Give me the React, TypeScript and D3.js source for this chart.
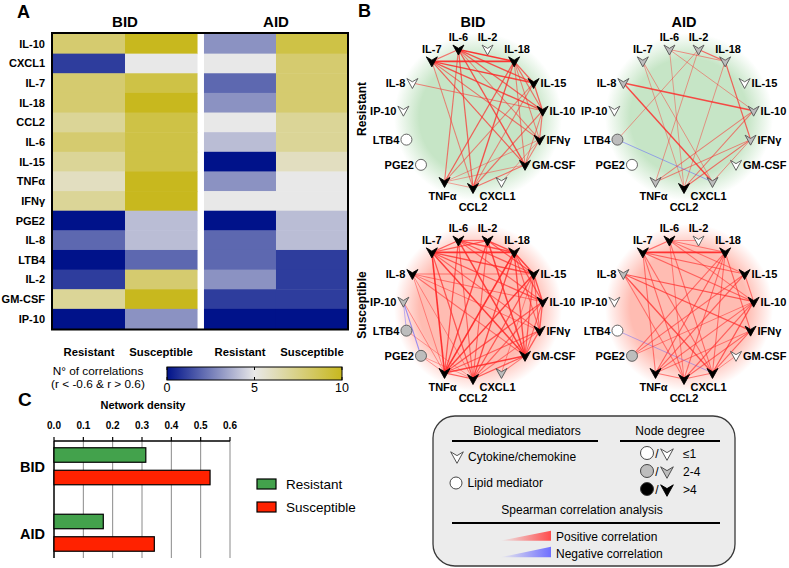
import React from "react";
import * as d3 from "d3";

const W = 789;
const H = 568;
const FONT = "'Liberation Sans', Arial, Helvetica, sans-serif";

// ---------- Panel A: heatmap data ----------
const heatRows = ["IL-10", "CXCL1", "IL-7", "IL-18", "CCL2", "IL-6", "IL-15", "TNFα", "IFNγ", "PGE2", "IL-8", "LTB4", "IL-2", "GM-CSF", "IP-10"];
const heatGroups = ["BID", "AID"];
const heatCols = ["Resistant", "Susceptible"];
const bidResistant = [8, 1, 8, 8, 7, 8, 7, 6, 7, 0, 2, 0, 1, 7, 0];
const bidSusceptible = [10, 5, 9, 10, 9, 9, 9, 10, 10, 4, 4, 2, 8, 10, 3];
const aidResistant = [3, 5, 2, 3, 5, 4, 0, 3, 5, 0, 2, 2, 3, 1, 0];
const aidSusceptible = [9, 8, 8, 8, 7, 7, 6, 5, 5, 4, 4, 1, 1, 1, 0];
const colorTicks = [0, 5, 10];

// ---------- Panel C: density data ----------
const densityGroups = ["BID", "AID"];
const densitySeries = ["Resistant", "Susceptible"];
const densityResistant = [0.313, 0.168];
const densitySusceptible = [0.532, 0.342];
const densityTicks = [0, 0.1, 0.2, 0.3, 0.4, 0.5, 0.6];

// ---------- Panel B: network data ----------
const netNodes = ["CCL2", "TNFα", "PGE2", "LTB4", "IP-10", "IL-8", "IL-7", "IL-6", "IL-2", "IL-18", "IL-15", "IL-10", "IFNγ", "GM-CSF", "CXCL1"];
const lipidNodes = ["PGE2", "LTB4"];
const topNodes = ["IL-7", "IL-6", "IL-2", "IL-18"];
const rightNodes = ["IL-15", "IL-10", "IFNγ", "GM-CSF"];
const bottomNodes = ["TNFα", "CCL2", "CXCL1"];

type Edge = [string, string, number];

const bidResEdges: Edge[] = [
  ["IL-7", "IL-6", 0.75], ["IL-7", "IL-18", 0.95], ["IL-6", "IL-18", 0.95], ["IL-7", "IL-15", 0.9],
  ["IL-7", "IL-10", 0.85], ["IL-7", "IFNγ", 0.75], ["IL-7", "GM-CSF", 0.8], ["IL-7", "CCL2", 0.7],
  ["IL-6", "TNFα", 0.75], ["IL-6", "IL-15", 0.85], ["IL-6", "IL-10", 0.8], ["IL-6", "GM-CSF", 0.85],
  ["IL-6", "CCL2", 0.8], ["IL-6", "IFNγ", 0.7], ["IL-18", "IL-15", 0.8], ["IL-18", "IL-10", 0.75],
  ["IL-18", "IFNγ", 0.7], ["IL-18", "GM-CSF", 0.7], ["IL-18", "TNFα", 0.8], ["IL-18", "CCL2", 0.85],
  ["IL-15", "IL-10", 0.8], ["IL-15", "CCL2", 0.7], ["IL-15", "TNFα", 0.7], ["IL-10", "IFNγ", 0.75],
  ["IL-10", "GM-CSF", 0.7], ["IL-10", "CCL2", 0.75], ["IFNγ", "GM-CSF", 0.7], ["IFNγ", "TNFα", 0.65],
  ["GM-CSF", "CCL2", 0.75], ["GM-CSF", "TNFα", 0.65], ["IL-8", "IL-10", 0.7], ["CXCL1", "IFNγ", 0.65],
  ["TNFα", "CCL2", 0.65],
];

const aidResEdges: Edge[] = [
  ["IL-6", "IL-18", 0.68], ["IL-2", "IL-18", 0.78], ["IL-6", "IL-10", 0.66], ["IL-2", "LTB4", 0.66],
  ["IL-2", "TNFα", 0.66], ["IL-8", "IL-10", 0.88], ["IL-8", "CXCL1", 0.88], ["LTB4", "CXCL1", -0.68],
  ["IL-18", "IFNγ", 0.8], ["IL-18", "CCL2", 0.66], ["IL-10", "TNFα", 0.7], ["IL-10", "CCL2", 0.72],
  ["IFNγ", "TNFα", 0.7], ["IFNγ", "CCL2", 0.76], ["IFNγ", "CXCL1", 0.68], ["IL-7", "CXCL1", 0.66],
  ["IL-6", "CCL2", 0.64], ["IL-7", "CCL2", 0.64],
];

const bidSusEdges: Edge[] = [
  ["IL-7", "IL-6", 0.8], ["IL-7", "IL-2", 0.8], ["IL-7", "IL-18", 0.95], ["IL-7", "IL-15", 0.85],
  ["IL-7", "IL-10", 0.8], ["IL-7", "IFNγ", 0.75], ["IL-7", "GM-CSF", 0.9], ["IL-7", "TNFα", 0.95],
  ["IL-7", "CCL2", 0.8], ["IL-6", "IL-2", 0.8], ["IL-6", "IL-18", 0.85], ["IL-6", "IL-15", 0.8],
  ["IL-6", "IL-10", 0.75], ["IL-6", "GM-CSF", 0.9], ["IL-6", "TNFα", 0.8], ["IL-6", "CCL2", 0.75],
  ["IL-2", "IL-18", 0.85], ["IL-2", "IL-15", 0.8], ["IL-2", "GM-CSF", 0.9], ["IL-2", "TNFα", 0.85],
  ["IL-2", "CCL2", 0.75], ["IL-18", "IL-15", 0.9], ["IL-18", "IL-10", 0.8], ["IL-18", "IFNγ", 0.75],
  ["IL-18", "GM-CSF", 0.85], ["IL-18", "TNFα", 0.95], ["IL-18", "CCL2", 0.85], ["IL-15", "IL-10", 0.85],
  ["IL-15", "IFNγ", 0.75], ["IL-15", "GM-CSF", 0.8], ["IL-15", "TNFα", 0.9], ["IL-15", "CCL2", 0.8],
  ["IL-10", "IFNγ", 0.8], ["IL-10", "GM-CSF", 0.75], ["IL-10", "TNFα", 0.8], ["IL-10", "CCL2", 0.75],
  ["IFNγ", "GM-CSF", 0.8], ["IFNγ", "TNFα", 0.75], ["IFNγ", "CCL2", 0.7], ["GM-CSF", "TNFα", 0.9],
  ["GM-CSF", "CCL2", 0.8], ["TNFα", "CCL2", 0.8], ["IL-8", "IL-15", 0.7], ["IL-8", "IL-10", 0.7],
  ["IL-8", "IFNγ", 0.68], ["IL-8", "GM-CSF", 0.72], ["IL-8", "TNFα", 0.66], ["IL-8", "CCL2", 0.66],
  ["IP-10", "PGE2", -0.75], ["IP-10", "LTB4", -0.65], ["IP-10", "TNFα", 0.66], ["LTB4", "CCL2", 0.63],
  ["PGE2", "TNFα", 0.66], ["PGE2", "CCL2", 0.63], ["CXCL1", "GM-CSF", 0.7], ["CXCL1", "IL-15", 0.66],
];

const aidSusEdges: Edge[] = [
  ["IL-7", "IL-6", 0.75], ["IL-7", "IL-18", 0.95], ["IL-7", "IL-15", 0.75], ["IL-7", "IL-10", 0.75],
  ["IL-7", "TNFα", 0.72], ["IL-7", "CCL2", 0.72], ["IL-7", "CXCL1", 0.72], ["IL-6", "IL-18", 0.7],
  ["IL-6", "IL-15", 0.7], ["IL-6", "IL-10", 0.7], ["IL-6", "CCL2", 0.68], ["IL-6", "CXCL1", 0.72],
  ["IL-18", "TNFα", 0.75], ["IL-18", "CCL2", 0.72], ["IL-18", "CXCL1", 0.72], ["IL-18", "IFNγ", 0.75],
  ["IL-15", "IL-10", 0.72], ["IL-15", "TNFα", 0.75], ["IL-10", "TNFα", 0.72], ["IL-10", "CCL2", 0.75],
  ["IL-10", "CXCL1", 0.8], ["IFNγ", "CCL2", 0.75], ["IFNγ", "CXCL1", 0.75], ["IFNγ", "TNFα", 0.7],
  ["TNFα", "CCL2", 0.72], ["CCL2", "CXCL1", 0.72], ["IL-8", "IL-10", 0.8], ["IL-8", "IFNγ", 0.8],
  ["IL-8", "CXCL1", 0.82], ["IL-8", "CCL2", 0.7], ["PGE2", "IL-18", 0.72], ["PGE2", "IL-15", 0.72],
  ["PGE2", "IL-10", 0.68], ["LTB4", "CXCL1", -0.65], ["IL-2", "IL-6", 0.66], ["GM-CSF", "CXCL1", 0.66],
];

const heatColor = d3
  .scaleLinear<string>()
  .domain([0, 5, 10])
  .range(["#00128a", "#e8e8e8", "#c8b81e"])
  .interpolate(d3.interpolateRgb);

const ARROW = "M-5.5,-4.5 L0,-1.2 L5.5,-4.5 L0,5.5 Z";

function nodeFill(deg: number) {
  if (deg <= 1) return "#ffffff";
  if (deg <= 4) return "#bdbdbd";
  return "#000000";
}

function Heatmap() {
  const x0 = 53, x1 = 348, y0 = 34, y1 = 328.5;
  const gx = d3.scaleBand().domain(heatGroups).range([x0, x1]).paddingInner(0.046);
  const cx = d3.scaleBand().domain(heatCols).range([0, gx.bandwidth()]);
  const y = d3.scaleBand().domain(heatRows).range([y0, y1]);
  const data: Record<string, number[]> = {
    "BID|Resistant": bidResistant,
    "BID|Susceptible": bidSusceptible,
    "AID|Resistant": aidResistant,
    "AID|Susceptible": aidSusceptible,
  };
  const cb = d3.scaleLinear().domain([0, 10]).range([167, 342]);
  return (
    <g>
      {heatGroups.map((g) => (
        <text key={g} x={(gx(g) as number) + gx.bandwidth() / 2} y={27} textAnchor="middle" fontWeight="bold" fontSize={15}>
          {g}
        </text>
      ))}
      {heatGroups.map((g) =>
        heatCols.map((c) =>
          heatRows.map((r, i) => (
            <rect
              key={g + c + r}
              x={(gx(g) as number) + (cx(c) as number)}
              y={y(r) as number}
              width={cx.bandwidth() + 0.5}
              height={y.bandwidth() + 0.5}
              fill={heatColor(data[g + "|" + c][i])}
            />
          ))
        )
      )}
      <rect x={52} y={33} width={296} height={296.5} fill="none" stroke="#000" strokeWidth={2} />
      {heatRows.map((r) => (
        <text key={r} x={45} y={(y(r) as number) + y.bandwidth() / 2 + 4} textAnchor="end" fontWeight="bold" fontSize={11}>
          {r}
        </text>
      ))}
      {heatGroups.map((g) =>
        heatCols.map((c) => (
          <text key={g + c} x={(gx(g) as number) + (cx(c) as number) + cx.bandwidth() / 2} y={356} textAnchor="middle" fontWeight="bold" fontSize={11.3}>
            {c}
          </text>
        ))
      )}
      <text x={98} y={375} textAnchor="middle" fontSize={11.8}>N° of correlations</text>
      <text x={98} y={388} textAnchor="middle" fontSize={11.8}>(r &lt; -0.6 &amp; r &gt; 0.6)</text>
      <defs>
        <linearGradient id="cbar" x1="0" x2="1" y1="0" y2="0">
          {d3.range(0, 10.01, 1).map((v) => (
            <stop key={v} offset={`${v * 10}%`} stopColor={heatColor(v)} />
          ))}
        </linearGradient>
      </defs>
      <rect x={cb(0)} y={367} width={cb(10) - cb(0)} height={13} fill="url(#cbar)" stroke="#000" strokeWidth={1} />
      {colorTicks.map((t) => (
        <g key={t}>
          <line x1={cb(t)} x2={cb(t)} y1={367} y2={370} stroke="#000" strokeWidth={1} />
          <line x1={cb(t)} x2={cb(t)} y1={377} y2={380} stroke="#000" strokeWidth={1} />
          <text x={cb(t)} y={392} textAnchor="middle" fontSize={12.5}>{t}</text>
        </g>
      ))}
    </g>
  );
}

function DensityChart() {
  const x = d3.scaleLinear().domain([0, 0.6]).range([54, 230]);
  const yTop = 441, yBot = 558;
  const gy = d3.scalePoint().domain(densityGroups).range([yTop, yBot]).padding(0.38);
  const sy = d3.scaleBand().domain(densitySeries).range([-18.5, 18.5]).paddingInner(0.356);
  const vals: Record<string, number[]> = { Resistant: densityResistant, Susceptible: densitySusceptible };
  const cols: Record<string, string> = { Resistant: "#43a24c", Susceptible: "#ff2200" };
  return (
    <g>
      <text x={18} y={406} fontWeight="bold" fontSize={19}>C</text>
      <text x={143} y={409} textAnchor="middle" fontWeight="bold" fontSize={11}>Network density</text>
      {densityTicks.map((t) => (
        <g key={t}>
          {t > 0 && <line x1={x(t)} x2={x(t)} y1={yTop} y2={yBot} stroke="#8a8a8a" strokeWidth={1} />}
          <line x1={x(t)} x2={x(t)} y1={yTop - 4} y2={yTop} stroke="#000" strokeWidth={1.2} />
          <text x={x(t)} y={428.5} textAnchor="middle" fontWeight="bold" fontSize={10}>{t.toFixed(1)}</text>
        </g>
      ))}
      <line x1={x(0)} x2={x(0.6)} y1={yTop} y2={yTop} stroke="#000" strokeWidth={1.5} />
      <line x1={x(0)} x2={x(0)} y1={yTop} y2={yBot} stroke="#000" strokeWidth={1.5} />
      {densityGroups.map((g, gi) => (
        <g key={g}>
          <text x={45} y={(gy(g) as number) + 6} textAnchor="end" fontWeight="bold" fontSize={14.5}>{g}</text>
          {densitySeries.map((s) => (
            <rect
              key={s}
              x={x(0)}
              y={(gy(g) as number) + (sy(s) as number)}
              width={x(vals[s][gi]) - x(0)}
              height={sy.bandwidth()}
              fill={cols[s]}
              stroke="#000"
              strokeWidth={1.2}
            />
          ))}
        </g>
      ))}
      {densitySeries.map((s, i) => (
        <g key={s}>
          <rect x={257} y={479 + i * 23} width={19} height={10} fill={cols[s]} stroke="#000" strokeWidth={1.2} />
          <text x={286} y={489 + i * 23} fontSize={13.5}>{s}</text>
        </g>
      ))}
    </g>
  );
}

function Network({ cx, cy, edges, tint, id }: { cx: number; cy: number; edges: Edge[]; tint: string; id: string }) {
  const R = 70;
  const ang = d3.scalePoint().domain(netNodes).range([0, 336]);
  const pos = (n: string) => {
    const t = ((ang(n) as number) * Math.PI) / 180;
    return [cx - R * Math.sin(t), cy + R * Math.cos(t)];
  };
  const deg = new Map<string, number>();
  netNodes.forEach((n) => deg.set(n, 0));
  edges.forEach(([a, b]) => {
    deg.set(a, (deg.get(a) || 0) + 1);
    deg.set(b, (deg.get(b) || 0) + 1);
  });
  const op = d3.scaleLinear().domain([0.6, 1]).range([0.38, 1]).clamp(true);
  const sw = d3.scaleLinear().domain([0.6, 1]).range([0.8, 1.7]).clamp(true);
  const sorted = [...edges].sort((a, b) => Math.abs(a[2]) - Math.abs(b[2]));
  return (
    <g>
      <defs>
        <radialGradient id={id}>
          <stop offset="0%" stopColor={tint} stopOpacity={1} />
          <stop offset="70%" stopColor={tint} stopOpacity={1} />
          <stop offset="100%" stopColor={tint} stopOpacity={0} />
        </radialGradient>
      </defs>
      <circle cx={cx + 5} cy={cy - 1} r={84} fill={`url(#${id})`} />
      {sorted.map(([a, b, r], i) => {
        const [x1, y1] = pos(a);
        const [x2, y2] = pos(b);
        return (
          <line
            key={i}
            x1={x1}
            y1={y1}
            x2={x2}
            y2={y2}
            stroke={r < 0 ? "#5a5aff" : "#ff2626"}
            strokeOpacity={op(Math.abs(r))}
            strokeWidth={sw(Math.abs(r))}
          />
        );
      })}
      {netNodes.map((n) => {
        const [x, y] = pos(n);
        const d = deg.get(n) || 0;
        const fill = nodeFill(d);
        const stroke = d > 4 ? "#000" : "#555";
        let lx = x, ly = y, anchor: "start" | "middle" | "end" = "middle";
        if (topNodes.includes(n)) {
          ly = y - 8.5;
          lx = n === "IL-18" ? x + 3 : x;
        } else if (rightNodes.includes(n)) {
          lx = x + 7;
          ly = y + 4;
          anchor = "start";
        } else if (bottomNodes.includes(n)) {
          ly = n === "CCL2" ? y + 22.5 : y + 18;
          lx = n === "CXCL1" ? x - 4 : n === "TNFα" ? x - 2 : x;
        } else {
          lx = x - 7;
          ly = y + 4;
          anchor = "end";
        }
        return (
          <g key={n}>
            {lipidNodes.includes(n) ? (
              <circle cx={x} cy={y} r={5.5} fill={fill} stroke={stroke} strokeWidth={0.9} />
            ) : (
              <path d={ARROW} transform={`translate(${x},${y})`} fill={fill} stroke={stroke} strokeWidth={0.9} strokeLinejoin="round" />
            )}
            <text x={lx} y={ly} textAnchor={anchor} fontWeight="bold" fontSize={11}>{n}</text>
          </g>
        );
      })}
    </g>
  );
}

function Legend() {
  return (
    <g>
      <rect x={433} y={416} width={302} height={150} rx={22} ry={22} fill="#ececec" stroke="#3a3a3a" strokeWidth={1.3} />
      <text x={527} y={435} textAnchor="middle" fontSize={12}>Biological mediators</text>
      <text x={670} y={435} textAnchor="middle" fontSize={12}>Node degree</text>
      <line x1={452} x2={598} y1={441} y2={441} stroke="#000" strokeWidth={2} />
      <line x1={620} x2={720} y1={441} y2={441} stroke="#000" strokeWidth={2} />
      <path d={ARROW} transform="translate(457,457) scale(1.15)" fill="#fff" stroke="#444" strokeWidth={0.8} />
      <text x={468} y={461} fontSize={12}>Cytokine/chemokine</text>
      <circle cx={456} cy={483} r={6} fill="#fff" stroke="#333" strokeWidth={0.9} />
      <text x={467.5} y={487} fontSize={12}>Lipid mediator</text>
      {[
        ["#ffffff", "≤1"],
        ["#bdbdbd", "2-4"],
        ["#000000", ">4"],
      ].map(([f, lab], i) => (
        <g key={lab}>
          <circle cx={647} cy={453 + i * 18} r={6.5} fill={f} stroke="#333" strokeWidth={0.9} />
          <text x={657} y={458 + i * 18} textAnchor="middle" fontSize={12}>/</text>
          <path d={ARROW} transform={`translate(667,${454 + i * 18}) scale(1.15)`} fill={f} stroke={f === "#000000" ? "#000" : "#444"} strokeWidth={0.8} />
          <text x={683} y={458 + i * 18} fontSize={12}>{lab}</text>
        </g>
      ))}
      <text x={582} y={514} textAnchor="middle" fontSize={12}>Spearman correlation analysis</text>
      <line x1={452} x2={720} y1={523} y2={523} stroke="#000" strokeWidth={2} />
      <defs>
        <linearGradient id="posg" x1="0" x2="1" y1="0" y2="0">
          <stop offset="0%" stopColor="#ff4d4d" stopOpacity={0} />
          <stop offset="100%" stopColor="#ff4d4d" stopOpacity={1} />
        </linearGradient>
        <linearGradient id="negg" x1="0" x2="1" y1="0" y2="0">
          <stop offset="0%" stopColor="#6f6fff" stopOpacity={0} />
          <stop offset="100%" stopColor="#6f6fff" stopOpacity={1} />
        </linearGradient>
      </defs>
      <path d="M500,540.7 L551,530.7 L551,540.7 Z" fill="url(#posg)" />
      <path d="M500,557.3 L551,546.7 L551,557.3 Z" fill="url(#negg)" />
      <text x={556} y={541} fontSize={12}>Positive correlation</text>
      <text x={556} y={557.5} fontSize={12}>Negative correlation</text>
    </g>
  );
}

export default function App() {
  return (
    <svg
      width={W}
      height={H}
      viewBox={`0 0 ${W} ${H}`}
      style={{ position: "absolute", left: 0, top: 0, background: "#fff", fontFamily: FONT }}
      fontFamily={FONT}
    >
      <rect width={W} height={H} fill="#fff" />
      <text x={17} y={18} fontWeight="bold" fontSize={18}>A</text>
      <text x={358} y={17} fontWeight="bold" fontSize={18}>B</text>
      <Heatmap />
      <DensityChart />
      <text x={473} y={27} textAnchor="middle" fontWeight="bold" fontSize={14.5}>BID</text>
      <text x={684} y={27} textAnchor="middle" fontWeight="bold" fontSize={14.5}>AID</text>
      <text transform="translate(366,109) rotate(-90)" textAnchor="middle" fontWeight="bold" fontSize={12}>Resistant</text>
      <text transform="translate(366,305) rotate(-90)" textAnchor="middle" fontWeight="bold" fontSize={12}>Susceptible</text>
      <Network cx={473} cy={118} edges={bidResEdges} tint="#c6e5c6" id="g1" />
      <Network cx={684} cy={118} edges={aidResEdges} tint="#c6e5c6" id="g2" />
      <Network cx={473} cy={309} edges={bidSusEdges} tint="#ffbcb2" id="g3" />
      <Network cx={684} cy={309} edges={aidSusEdges} tint="#ffbcb2" id="g4" />
      <Legend />
    </svg>
  );
}
